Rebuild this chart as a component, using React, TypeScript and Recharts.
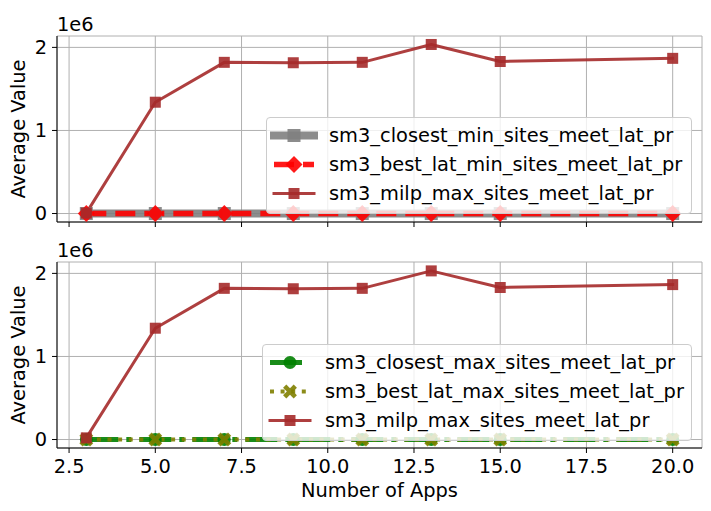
import React from 'react'
import { CartesianGrid, Label, Legend, Line, LineChart, XAxis, YAxis } from 'recharts'

const FONT = '"DejaVu Sans", sans-serif'
const ALPHA = 0.9

const apps = [3, 5, 7, 9, 11, 13, 15, 20]
const closestMin = [0, 0, 0, 0, 0, 0, 0, 0]
const bestLatMin = [0, 0, 0, 0, 0, 0, 0, 0]
const milpTop = [5000, 1340000, 1820000, 1815000, 1820000, 2035000, 1830000, 1868000]
const closestMax = [0, 0, 0, 0, 0, 0, 0, 0]
const bestLatMax = [0, 0, 0, 0, 0, 0, 0, 0]
const milpBottom = [20000, 1340000, 1820000, 1815000, 1820000, 2030000, 1830000, 1865000]

const xTicks = [2.5, 5, 7.5, 10, 12.5, 15, 17.5, 20]
const yTicks = [0, 1000000, 2000000]
const xDomain = [2.15, 20.85]
const yDomain = [-102000, 2137000]

type Shape = 'square' | 'diamond' | 'circle' | 'x'

interface SeriesDef {
  key: string
  name: string
  values: number[]
  color: string
  width: number
  dash?: string
  cap: 'butt' | 'square'
  shape: Shape
  size: number
}

const topSeries: SeriesDef[] = [
  { key: 'closestMin', name: 'sm3_closest_min_sites_meet_lat_pr', values: closestMin, color: '#808080', width: 8, cap: 'square', shape: 'square', size: 13 },
  { key: 'bestLatMin', name: 'sm3_best_lat_min_sites_meet_lat_pr', values: bestLatMin, color: '#ff0000', width: 5.5, dash: '20 9', cap: 'butt', shape: 'diamond', size: 17 },
  { key: 'milpTop', name: 'sm3_milp_max_sites_meet_lat_pr', values: milpTop, color: '#a52a2a', width: 3, cap: 'square', shape: 'square', size: 11 },
]

const bottomSeries: SeriesDef[] = [
  { key: 'closestMax', name: 'sm3_closest_max_sites_meet_lat_pr', values: closestMax, color: '#008000', width: 5, dash: '32 8 5 8', cap: 'butt', shape: 'circle', size: 13 },
  { key: 'bestLatMax', name: 'sm3_best_lat_max_sites_meet_lat_pr', values: bestLatMax, color: '#808000', width: 4, dash: '4 6.6', cap: 'butt', shape: 'x', size: 12 },
  { key: 'milpBottom', name: 'sm3_milp_max_sites_meet_lat_pr', values: milpBottom, color: '#a52a2a', width: 3, cap: 'square', shape: 'square', size: 11 },
]

function buildRows(series: SeriesDef[]) {
  return apps.map((x, i) => {
    const row: Record<string, number> = { apps: x }
    series.forEach((s) => {
      row[s.key] = s.values[i]
    })
    return row
  })
}

function Marker({ shape, cx, cy, size, color }: { shape: Shape; cx: number; cy: number; size: number; color: string }) {
  const h = size / 2
  let body: React.ReactNode = null
  if (shape === 'square') {
    body = <rect x={cx - h} y={cy - h} width={size} height={size} fill={color} />
  } else if (shape === 'diamond') {
    body = <polygon points={`${cx},${cy - h} ${cx + h},${cy} ${cx},${cy + h} ${cx - h},${cy}`} fill={color} />
  } else if (shape === 'circle') {
    body = <circle cx={cx} cy={cy} r={h} fill={color} />
  } else {
    const len = size * 1.25
    const th = size * 0.38
    body = (
      <>
        <rect x={cx - len / 2} y={cy - th / 2} width={len} height={th} fill={color} transform={`rotate(45 ${cx} ${cy})`} />
        <rect x={cx - len / 2} y={cy - th / 2} width={len} height={th} fill={color} transform={`rotate(-45 ${cx} ${cy})`} />
      </>
    )
  }
  return <g opacity={ALPHA}>{body}</g>
}

function LegendBox({ series }: { series: SeriesDef[] }) {
  return (
    <div
      style={{
        background: 'rgba(255,255,255,0.8)',
        border: '1px solid #cccccc',
        borderRadius: 4,
        padding: '3px 0 5px 0',
        fontFamily: FONT,
        fontSize: 19.4,
        color: '#000',
      }}
    >
      {series.map((s) => (
        <div key={s.key} style={{ display: 'flex', alignItems: 'center', height: 29, paddingLeft: 7 }}>
          <svg width={40} height={29} style={{ overflow: 'visible', flexShrink: 0 }}>
            <line
              x1={0}
              x2={40}
              y1={14.5}
              y2={14.5}
              stroke={s.color}
              strokeOpacity={ALPHA}
              strokeWidth={s.width}
              strokeDasharray={s.dash}
              strokeLinecap={s.cap}
            />
            <Marker shape={s.shape} cx={20} cy={14.5} size={s.size} color={s.color} />
          </svg>
          <span style={{ marginLeft: 15, whiteSpace: 'nowrap', lineHeight: '29px' }}>{s.name}</span>
        </div>
      ))}
    </div>
  )
}

const tickStyle = { fill: '#000', fontSize: 19.4, fontFamily: FONT }

interface PanelProps {
  title: string
  series: SeriesDef[]
  height: number
  marginTop: number
  xAxisHeight: number
  showXLabels: boolean
  legendTop: number
  legendLeft: number
  legendWidth: number
}

function Panel({ title, series, height, marginTop, xAxisHeight, showXLabels, legendTop, legendLeft, legendWidth }: PanelProps) {
  const data = buildRows(series)
  return (
    <LineChart width={711} height={height} data={data} margin={{ top: marginTop, right: 9, bottom: 0, left: 0 }}>
      <CartesianGrid stroke="#b0b0b0" strokeWidth={1} />
      <XAxis
        dataKey="apps"
        type="number"
        domain={xDomain}
        ticks={xTicks}
        allowDataOverflow
        height={xAxisHeight}
        tickSize={5}
        tickMargin={6}
        tick={tickStyle}
        tickFormatter={(v: number) => (showXLabels ? v.toFixed(1) : '')}
        axisLine={{ stroke: '#000' }}
        tickLine={{ stroke: '#000' }}
        interval={0}
      >
        {showXLabels && (
          <Label
            content={({ viewBox }: any) => (
              <text x={viewBox.x + viewBox.width / 2} y={viewBox.y + 49} textAnchor="middle" fontSize={19.4} fontFamily={FONT} fill="#000">
                Number of Apps
              </text>
            )}
          />
        )}
      </XAxis>
      <XAxis
        xAxisId="top"
        orientation="top"
        type="number"
        domain={xDomain}
        allowDataOverflow
        height={0}
        tick={false}
        tickLine={false}
        axisLine={{ stroke: '#000' }}
      >
        <Label
          content={({ viewBox }: any) => (
            <text x={viewBox.x + viewBox.width / 2} y={viewBox.y - 9} textAnchor="middle" fontSize={23.3} fontFamily={FONT} fill="#000">
              {title}
            </text>
          )}
        />
      </XAxis>
      <YAxis
        type="number"
        domain={yDomain}
        ticks={yTicks}
        allowDataOverflow
        width={57}
        tickSize={5}
        tickMargin={5}
        tick={tickStyle}
        tickFormatter={(v: number) => String(v / 1000000)}
        axisLine={{ stroke: '#000' }}
        tickLine={{ stroke: '#000' }}
        interval={0}
      >
        <Label
          content={({ viewBox }: any) => (
            <text
              x={18}
              y={viewBox.y + viewBox.height / 2}
              textAnchor="middle"
              dominantBaseline="central"
              transform={`rotate(-90 18 ${viewBox.y + viewBox.height / 2})`}
              fontSize={19.4}
              fontFamily={FONT}
              fill="#000"
            >
              Average Value
            </text>
          )}
        />
        <Label
          content={({ viewBox }: any) => (
            <text x={viewBox.x + viewBox.width} y={viewBox.y - 5} textAnchor="start" fontSize={19.4} fontFamily={FONT} fill="#000">
              1e6
            </text>
          )}
        />
      </YAxis>
      <YAxis
        yAxisId="right"
        orientation="right"
        type="number"
        domain={yDomain}
        allowDataOverflow
        width={0}
        tick={false}
        tickLine={false}
        axisLine={{ stroke: '#000' }}
      />
      {series.map((s) => (
        <Line
          key={s.key}
          dataKey={s.key}
          name={s.name}
          stroke={s.color}
          strokeOpacity={ALPHA}
          strokeWidth={s.width}
          strokeDasharray={s.dash}
          strokeLinecap={s.cap}
          strokeLinejoin="round"
          dot={(p: any) => <Marker key={`${s.key}-${p.index}`} shape={s.shape} cx={p.cx} cy={p.cy} size={s.size} color={s.color} />}
          activeDot={false}
          isAnimationActive={false}
        />
      ))}
      <Legend
        layout="vertical"
        align="center"
        verticalAlign="middle"
        width={legendWidth}
        wrapperStyle={{ top: legendTop, left: legendLeft }}
        content={() => <LegendBox series={series} />}
      />
    </LineChart>
  )
}

export default function App() {
  return (
    <div style={{ position: 'absolute', left: 0, top: 0, width: 711, height: 511, background: '#fff' }}>
      <div style={{ position: 'absolute', left: 0, top: 0 }}>
        <Panel
          title="min_sites"
          series={topSeries}
          height={230}
          marginTop={36}
          xAxisHeight={8}
          showXLabels={false}
          legendTop={117}
          legendLeft={266}
          legendWidth={426}
        />
      </div>
      <div style={{ position: 'absolute', left: 0, top: 225 }}>
        <Panel
          title="max_sites"
          series={bottomSeries}
          height={286}
          marginTop={37}
          xAxisHeight={63}
          showXLabels
          legendTop={119}
          legendLeft={262}
          legendWidth={430}
        />
      </div>
    </div>
  )
}
